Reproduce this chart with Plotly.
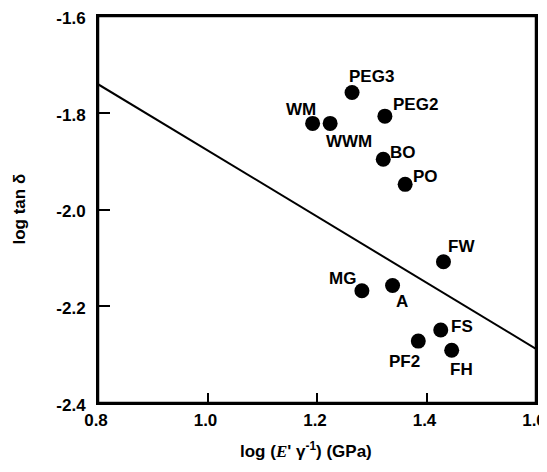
import plotly.graph_objects as go

# Data
labels = ["PEG3", "WM", "WWM", "PEG2", "BO", "PO", "FW", "MG", "A", "FS", "PF2", "FH"]
log_E_gamma = [1.264, 1.192, 1.224, 1.324, 1.321, 1.361, 1.431, 1.282, 1.338, 1.426, 1.385, 1.446]
log_tan_delta = [-1.758, -1.822, -1.822, -1.807, -1.896, -1.948, -2.108, -2.168, -2.157, -2.249, -2.272, -2.291]

fit_x = [0.8, 1.6]
fit_y = [-1.741, -2.288]

x_ticks = [0.8, 1.0, 1.2, 1.4, 1.6]
y_ticks = [-1.6, -1.8, -2.0, -2.2, -2.4]

# label offsets in pixels (dx right, dy up)
label_offsets = {
    "PEG3": (19, 16), "WM": (-12, 14), "WWM": (19, -18), "PEG2": (31, 12),
    "BO": (20, 7), "PO": (20, 8), "FW": (18, 15), "MG": (-19, 12),
    "A": (9, -16), "FS": (21, 3), "PF2": (-14, -20), "FH": (10, -19),
}

font_family = "Liberation Sans, Arial, sans-serif"
bold_font = dict(family=font_family, size=17, color="black", weight="bold")

fig = go.Figure()
fig.add_trace(go.Scatter(x=fit_x, y=fit_y, mode="lines",
                         line=dict(color="black", width=2), showlegend=False,
                         hoverinfo="skip"))
fig.add_trace(go.Scatter(x=log_E_gamma, y=log_tan_delta, mode="markers",
                         marker=dict(color="black", size=15), showlegend=False,
                         text=labels))

annotations = []
for lab, xv, yv in zip(labels, log_E_gamma, log_tan_delta):
    dx, dy = label_offsets[lab]
    annotations.append(dict(x=xv, y=yv, xref="x", yref="y", text=lab,
                            showarrow=False, xshift=dx, yshift=dy, font=bold_font))

annotations.append(dict(
    x=0.475, y=-0.127, xref="paper", yref="paper", showarrow=False, yshift=2,
    text="log (<span style='font-family:Liberation Serif, serif'><i>E</i></span>' γ<sup>-1</sup>) (GPa)",
    xanchor="center", yanchor="middle", font=bold_font))
annotations.append(dict(
    x=-0.1735, y=0.5, xref="paper", yref="paper", showarrow=False, xshift=-3,
    text="log tan δ", textangle=-90, xanchor="center", yanchor="middle",
    font=bold_font))

# the page body adds an 8px margin, so the figure is sized to fit inside the window
fig.update_layout(
    width=539, height=456,
    margin=dict(l=90, r=11, t=8, b=61, autoexpand=False),
    paper_bgcolor="white", plot_bgcolor="white",
    annotations=annotations,
    font=dict(family=font_family, size=17, color="black"),
    shapes=[dict(type="rect", xref="paper", yref="paper", x0=0, y0=0, x1=1, y1=1,
                 line=dict(color="black", width=2.5), layer="above")],
)
tick_font = dict(family=font_family, size=17, color="black", weight="bold")
fig.update_xaxes(range=[0.8, 1.6], tickvals=x_ticks, ticktext=[f"{v:.1f}" for v in x_ticks],
                 ticks="inside", ticklen=10, tickwidth=2, tickcolor="black",
                 showline=True, linecolor="black", linewidth=2, mirror=True,
                 showgrid=False, zeroline=False, ticklabelstandoff=1, automargin=False,
                 ticklabelshift=-2,
                 ticklabeloverflow="allow", tickfont=tick_font)
fig.update_yaxes(range=[-2.4, -1.6], tickvals=y_ticks, ticktext=[f"{v:.1f}" for v in y_ticks],
                 ticks="inside", ticklen=12, tickwidth=2, tickcolor="black",
                 showline=True, linecolor="black", linewidth=2, mirror=True,
                 showgrid=False, zeroline=False, ticklabelstandoff=7, automargin=False,
                 ticklabelshift=2,
                 ticklabeloverflow="allow", tickfont=tick_font)

fig.write_html("out.html")
